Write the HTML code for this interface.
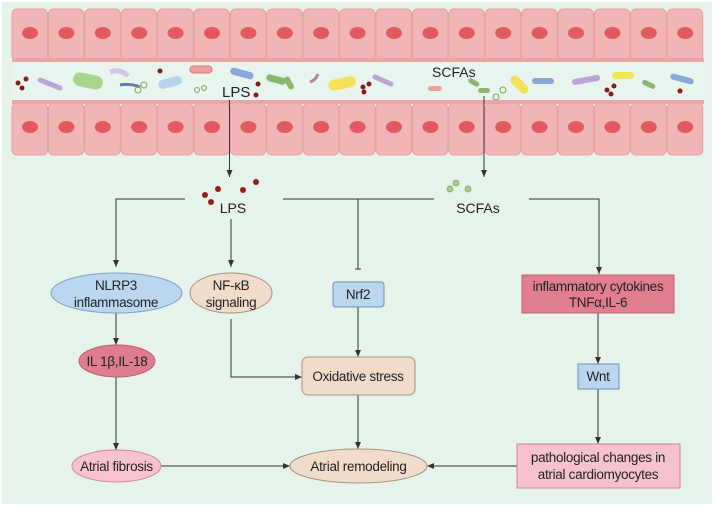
<!DOCTYPE html>
<html><head><meta charset="utf-8"><style>
html,body{margin:0;padding:0;background:#fff;}
svg{display:block;font-family:"Liberation Sans",sans-serif;}
</style></head><body>
<svg width="716" height="508" viewBox="0 0 716 508" xmlns="http://www.w3.org/2000/svg">
<defs>
<marker id="a" markerWidth="8" markerHeight="8" refX="7" refY="4" orient="auto" markerUnits="userSpaceOnUse"><path d="M0,1 L7,4 L0,7 z" fill="#333"/></marker>
<g id="cell"><rect x="0" y="0" width="35.5" height="52" rx="5" fill="#f1b5b5" stroke="#e5a1a1" stroke-width="1"/><ellipse cx="18" cy="24" rx="8" ry="6" fill="#e25a5f"/></g>
</defs>
<rect x="2" y="2" width="710" height="502" fill="#e6f3ea"/>
<rect x="12" y="60" width="692" height="41" fill="#e8f4ee"/>
<g>
<use href="#cell" x="12" y="9"/><use href="#cell" x="48.4" y="9"/><use href="#cell" x="84.8" y="9"/><use href="#cell" x="121.2" y="9"/><use href="#cell" x="157.6" y="9"/><use href="#cell" x="194" y="9"/><use href="#cell" x="230.4" y="9"/><use href="#cell" x="266.8" y="9"/><use href="#cell" x="303.2" y="9"/><use href="#cell" x="339.6" y="9"/><use href="#cell" x="376" y="9"/><use href="#cell" x="412.4" y="9"/><use href="#cell" x="448.8" y="9"/><use href="#cell" x="485.2" y="9"/><use href="#cell" x="521.6" y="9"/><use href="#cell" x="558" y="9"/><use href="#cell" x="594.4" y="9"/><use href="#cell" x="630.8" y="9"/><use href="#cell" x="667.2" y="9"/>
</g>
<g>
<use href="#cell" x="12" y="103"/><use href="#cell" x="48.4" y="103"/><use href="#cell" x="84.8" y="103"/><use href="#cell" x="121.2" y="103"/><use href="#cell" x="157.6" y="103"/><use href="#cell" x="194" y="103"/><use href="#cell" x="230.4" y="103"/><use href="#cell" x="266.8" y="103"/><use href="#cell" x="303.2" y="103"/><use href="#cell" x="339.6" y="103"/><use href="#cell" x="376" y="103"/><use href="#cell" x="412.4" y="103"/><use href="#cell" x="448.8" y="103"/><use href="#cell" x="485.2" y="103"/><use href="#cell" x="521.6" y="103"/><use href="#cell" x="558" y="103"/><use href="#cell" x="594.4" y="103"/><use href="#cell" x="630.8" y="103"/><use href="#cell" x="667.2" y="103"/>
</g>
<rect x="12" y="58" width="692" height="4" fill="#e8a8a8"/>
<rect x="12" y="100" width="692" height="4" fill="#e8a8a8"/>
<g>
<circle cx="18" cy="83" r="2.5" fill="#8b1a1a"/><circle cx="26" cy="79" r="2.5" fill="#8b1a1a"/><circle cx="22" cy="88" r="2.5" fill="#8b1a1a"/>
<path d="M40 80 l20 8" stroke="#b9a6d6" stroke-width="5" stroke-linecap="round"/>
<rect x="73" y="74" width="30" height="14" rx="7" fill="#a9d48e" transform="rotate(12 88 81)"/>
<path d="M110 72 q10 -4 18 4" stroke="#d4c7e3" stroke-width="5" fill="none"/>
<path d="M120 85 q10 -2 20 2" stroke="#6279b5" stroke-width="3" fill="none"/>
<circle cx="138" cy="90" r="3" fill="none" stroke="#7ea651"/><circle cx="144" cy="85" r="3" fill="none" stroke="#7ea651"/>
<circle cx="160" cy="71" r="2.5" fill="#8b1a1a"/>
<rect x="158" y="78" width="24" height="9" rx="4.5" fill="#b7d3f0" transform="rotate(-15 170 82)"/>
<rect x="190" y="66" width="22" height="7" rx="3.5" fill="#f0a0a0" stroke="#d77"/>
<circle cx="197" cy="90" r="2.5" fill="none" stroke="#7ea651"/><circle cx="204" cy="88" r="2.5" fill="none" stroke="#7ea651"/>
<rect x="230" y="70" width="24" height="7" rx="3.5" fill="#8aa7d6" transform="rotate(15 242 73)"/>
<circle cx="258" cy="84" r="2.5" fill="#8b1a1a"/><circle cx="256" cy="95" r="2.5" fill="#8b1a1a"/>
<rect x="266" y="76" width="20" height="7" rx="3.5" fill="#8cb56e" transform="rotate(15 276 80)"/>
<rect x="282" y="80" width="14" height="6" rx="3" fill="#8cb56e" transform="rotate(60 289 83)"/>
<path d="M310 82 q6 -2 8 -8" stroke="#b583a6" stroke-width="3" fill="none"/>
<rect x="328" y="78" width="28" height="11" rx="5.5" fill="#f4e15a" transform="rotate(-12 342 83)"/>
<circle cx="363" cy="87" r="2.5" fill="#8b1a1a"/><circle cx="369" cy="84" r="2.5" fill="#8b1a1a"/><circle cx="364" cy="92" r="2.5" fill="#8b1a1a"/>
<path d="M375 77 l16 7" stroke="#b9a6d6" stroke-width="5" stroke-linecap="round"/>
<rect x="428" y="86" width="14" height="5" rx="2.5" fill="#f0a0a0"/>
<rect x="468" y="80" width="12" height="5" rx="2.5" fill="#8cb56e" transform="rotate(30 474 82)"/>
<rect x="478" y="88" width="12" height="5" rx="2.5" fill="#8cb56e"/>
<circle cx="496" cy="97" r="3" fill="none" stroke="#7ea651"/><circle cx="503" cy="90" r="3" fill="none" stroke="#7ea651"/>
<rect x="508" y="80" width="22" height="9" rx="4.5" fill="#f4e15a" transform="rotate(45 519 85)"/>
<rect x="532" y="78" width="22" height="6" rx="3" fill="#8aa7d6"/>
<path d="M575 82 l22 -4" stroke="#b9a6d6" stroke-width="6" stroke-linecap="round"/>
<rect x="612" y="72" width="22" height="7" rx="3.5" fill="#f4e15a"/>
<circle cx="607" cy="90" r="2.5" fill="#8b1a1a"/><circle cx="614" cy="86" r="2.5" fill="#8b1a1a"/><circle cx="611" cy="94" r="2.5" fill="#8b1a1a"/>
<rect x="642" y="82" width="14" height="5" rx="2.5" fill="#8cb56e" transform="rotate(25 649 84)"/>
<rect x="670" y="76" width="24" height="6" rx="3" fill="#8aa7d6" transform="rotate(15 682 79)"/>
<circle cx="680" cy="91" r="2.5" fill="#8b1a1a"/>
</g>
<text x="222" y="97" font-size="15" fill="#222">LPS</text>
<text x="432" y="77" font-size="14" fill="#222">SCFAs</text>
<g stroke="#333" stroke-width="1" fill="none">
<line x1="229.5" y1="100" x2="229.5" y2="177" marker-end="url(#a)"/>
<line x1="484" y1="96" x2="484" y2="177" marker-end="url(#a)"/>
<polyline points="185,199 116,199 116,267" marker-end="url(#a)"/>
<line x1="231" y1="219" x2="231" y2="267" marker-end="url(#a)"/>
<line x1="283" y1="199" x2="434" y2="199"/>
<line x1="358" y1="199" x2="358" y2="269"/>
<line x1="355" y1="269" x2="361" y2="269"/>
<polyline points="529,199 599,199 599,274" marker-end="url(#a)"/>
<line x1="116" y1="313" x2="116" y2="345" marker-end="url(#a)"/>
<line x1="116" y1="377" x2="116" y2="450" marker-end="url(#a)"/>
<polyline points="231,319 231,377 302,377" marker-end="url(#a)"/>
<line x1="358" y1="307" x2="358" y2="357" marker-end="url(#a)"/>
<line x1="358" y1="395" x2="358" y2="449" marker-end="url(#a)"/>
<line x1="161" y1="466" x2="290" y2="466" marker-end="url(#a)"/>
<line x1="598" y1="313" x2="598" y2="364" marker-end="url(#a)"/>
<line x1="598" y1="389" x2="598" y2="444" marker-end="url(#a)"/>
<line x1="517" y1="466" x2="427" y2="466" marker-end="url(#a)"/>
</g>
<circle cx="205" cy="195" r="3" fill="#9b1c1c"/><circle cx="218" cy="189" r="3" fill="#9b1c1c"/><circle cx="211" cy="202" r="3" fill="#9b1c1c"/><circle cx="243" cy="190" r="3" fill="#9b1c1c"/><circle cx="256" cy="182" r="3" fill="#9b1c1c"/>
<circle cx="450" cy="189" r="3" fill="#a9cf8e" stroke="#7ea651" stroke-width=".7"/><circle cx="456" cy="183" r="3" fill="#a9cf8e" stroke="#7ea651" stroke-width=".7"/><circle cx="468" cy="189" r="3" fill="#a9cf8e" stroke="#7ea651" stroke-width=".7"/>
<g font-size="14" fill="#222" text-anchor="middle">
<text x="233" y="213">LPS</text>
<text x="478" y="213">SCFAs</text>
</g>
<g stroke-width="1">
<ellipse cx="116.5" cy="293" rx="65.5" ry="20" fill="#bcd6ef" stroke="#7f9fc2"/>
<ellipse cx="231" cy="293" rx="41" ry="20" fill="#f1dccb" stroke="#a7917f"/>
<rect x="333" y="282" width="51" height="25" rx="3" fill="#bcd6ef" stroke="#6f8fb5"/>
<rect x="522" y="275" width="152" height="38" fill="#e17f8e" stroke="#c06070"/>
<ellipse cx="117" cy="361" rx="38" ry="16" fill="#df7d8e" stroke="#b8606e"/>
<rect x="302" y="357" width="113" height="38" rx="6" fill="#f1dccb" stroke="#a7917f"/>
<rect x="578" y="364" width="41" height="25" fill="#bcd6ef" stroke="#6f8fb5"/>
<ellipse cx="116.5" cy="466" rx="44.5" ry="16" fill="#f7c3d0" stroke="#c9899a"/>
<ellipse cx="358.5" cy="466" rx="68.5" ry="17" fill="#f1dccb" stroke="#a7917f"/>
<rect x="517" y="444" width="163" height="44" fill="#f6c2cf" stroke="#d77f8e"/>
</g>
<g font-size="13.5" fill="#222" text-anchor="middle" style="letter-spacing:-0.3px">
<text x="116" y="290">NLRP3</text><text x="116" y="307">inflammasome</text>
<text x="231" y="290">NF-κB</text><text x="231" y="307">signaling</text>
<text x="358" y="299">Nrf2</text>
<text x="598" y="291">inflammatory cytokines</text><text x="598" y="307">TNFα,IL-6</text>
<text x="117" y="366">IL 1β,IL-18</text>
<text x="358" y="381">Oxidative stress</text>
<text x="598" y="381">Wnt</text>
<text x="116.5" y="471">Atrial fibrosis</text>
<text x="358.5" y="471">Atrial remodeling</text>
<text x="598" y="462">pathological changes in</text><text x="598" y="479">atrial cardiomyocytes</text>
</g>
</svg>
</body></html>
